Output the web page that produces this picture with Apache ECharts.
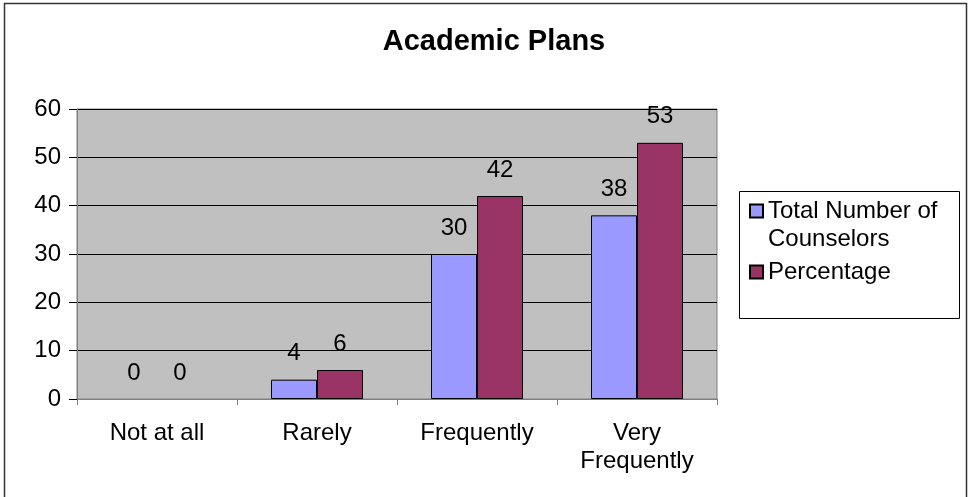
<!DOCTYPE html>
<html>
<head>
<meta charset="utf-8">
<script src="https://cdn.jsdelivr.net/npm/echarts@6/dist/echarts.min.js"></script>
<style>
html,body{margin:0;padding:0;background:#fff;}
#chart{width:972px;height:497px;}
</style>
</head>
<body>
<div id="chart"></div>
<script>
var titleText = 'Academic Plans';
var categories = ['Not at all', 'Rarely', 'Frequently', 'Very\nFrequently'];
var seriesNames = ['Total Number of Counselors', 'Percentage'];
var totalCounselors = [0, 4, 30, 38];
var percentage = [0, 6, 42, 53];
var yTicks = {min: 0, max: 60, interval: 10};

var font = 'Liberation Sans, Arial, sans-serif';
var chart = echarts.init(document.getElementById('chart'), null, {renderer: 'canvas'});
var labelStyle = {show: true, position: 'top', distance: 14, color: '#000', fontSize: 24, fontFamily: font};
function toItems(arr) {
  return arr.map(function (v) { return v === 0 ? {value: v, itemStyle: {borderWidth: 0}} : v; });
}
var legendText = {fontFamily: font, fontSize: 24, color: '#000', lineHeight: 28};
chart.setOption({
  animation: false,
  title: {
    text: titleText, left: 489, top: 22, textAlign: 'center',
    textStyle: {fontFamily: font, fontSize: 29, fontWeight: 'bold', color: '#000'}
  },
  grid: {left: 77, right: 255, top: 109, bottom: 98, show: true, backgroundColor: '#C0C0C0', borderWidth: 1, borderColor: '#808080'},
  legend: [
    {
      orient: 'vertical', left: 749, top: 169, padding: 0, itemWidth: 13, itemHeight: 13,
      icon: 'rect', selectedMode: false,
      textStyle: legendText,
      formatter: function (n) { return ' \n' + n.replace(' Counselors', '\nCounselors'); },
      data: [seriesNames[0]]
    },
    {
      orient: 'vertical', left: 749, top: 258, padding: 0, itemWidth: 13, itemHeight: 13,
      icon: 'rect', selectedMode: false,
      textStyle: legendText,
      data: [seriesNames[1]]
    }
  ],
  xAxis: {
    type: 'category', data: categories,
    axisLine: {lineStyle: {color: '#808080', width: 1}},
    axisTick: {show: true, length: 6, lineStyle: {color: '#808080'}},
    axisLabel: {fontFamily: font, fontSize: 24, color: '#000', margin: 20, lineHeight: 28}
  },
  yAxis: {
    type: 'value', min: yTicks.min, max: yTicks.max, interval: yTicks.interval,
    axisLine: {show: true, lineStyle: {color: '#808080'}},
    axisTick: {show: true, length: 8, lineStyle: {color: '#000'}},
    axisLabel: {fontFamily: font, fontSize: 24, color: '#000', margin: 16},
    splitLine: {lineStyle: {color: '#000', width: 1}}
  },
  series: [
    {name: seriesNames[0], type: 'bar', data: toItems(totalCounselors), barGap: '0%', barCategoryGap: '42.5%',
     itemStyle: {color: '#9999FF', borderColor: '#000', borderWidth: 1}, label: labelStyle},
    {name: seriesNames[1], type: 'bar', data: toItems(percentage),
     itemStyle: {color: '#993366', borderColor: '#000', borderWidth: 1}, label: labelStyle}
  ],
  graphic: [
    {type: 'rect', shape: {x: 4.5, y: 3.5, width: 962, height: 500}, style: {fill: 'none', stroke: '#333', lineWidth: 1.5}, silent: true, z: -1},
    {type: 'rect', shape: {x: 739.5, y: 191.5, width: 220, height: 127}, style: {fill: 'none', stroke: '#000', lineWidth: 1}, silent: true}
  ]
});
</script>
</body>
</html>
